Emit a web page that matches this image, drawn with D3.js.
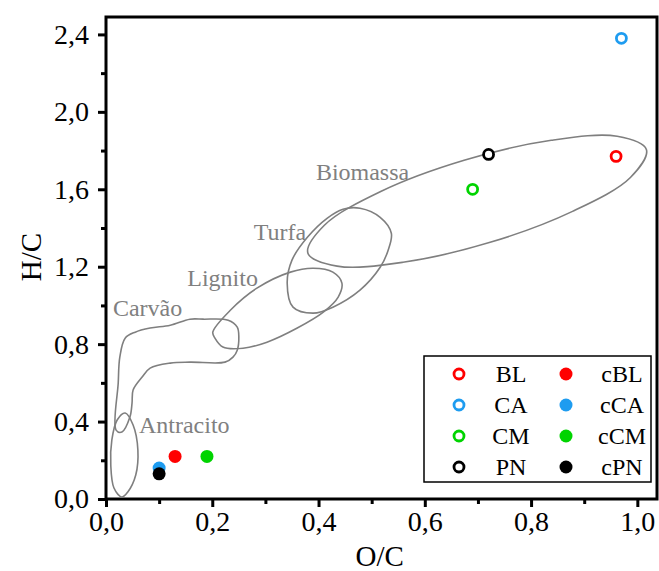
<!DOCTYPE html>
<html>
<head>
<meta charset="utf-8">
<script src="https://cdnjs.cloudflare.com/ajax/libs/d3/7.8.5/d3.min.js"></script>
<style>
body { margin: 0; background: #fff; }
svg text { font-family: 'Liberation Serif', 'Times New Roman', serif; }
</style>
</head>
<body>
<div id="chart"></div>
<script>
// data
var samples = ['BL', 'CA', 'CM', 'PN'];
var colors = ['#ff0000', '#1e9cf0', '#00d400', '#000000'];
var rawOC = [0.96, 0.97, 0.69, 0.72];
var rawHC = [1.77, 2.38, 1.60, 1.78];
var charOC = [0.13, 0.10, 0.19, 0.10];
var charHC = [0.22, 0.16, 0.22, 0.13];

var xTicks = [0, 0.2, 0.4, 0.6, 0.8, 1.0];
var xMinor = [0.1, 0.3, 0.5, 0.7, 0.9];
var yTicks = [0, 0.4, 0.8, 1.2, 1.6, 2.0, 2.4];
var yMinor = [0.2, 0.6, 1.0, 1.4, 1.8, 2.2];

// region outlines [O/C, H/C]
var biomassa = [[1.017,1.806],[0.987,1.661],[0.878,1.486],[0.723,1.326],[0.559,1.223],[0.435,1.203],
    [0.380,1.270],[0.411,1.414],[0.518,1.590],[0.674,1.750],[0.838,1.853],[0.962,1.874]];
var turfa = [[0.478,1.502],[0.516,1.455],[0.537,1.373],[0.531,1.285],[0.516,1.197],[0.478,1.079],
    [0.427,0.991],[0.390,0.960],[0.352,0.991],[0.341,1.115],[0.350,1.234],[0.379,1.352],[0.416,1.450],[0.446,1.497]];
var lignito = [[0.201,0.862],[0.234,0.975],[0.284,1.089],[0.347,1.172],[0.390,1.192],[0.427,1.172],
    [0.444,1.115],[0.437,1.043],[0.409,0.965],[0.360,0.883],[0.303,0.810],[0.258,0.779],[0.220,0.785],[0.205,0.831]];
var carvao = [[0.019,0.356],[0.023,0.599],[0.026,0.733],[0.036,0.831],[0.055,0.862],[0.083,0.883],
    [0.121,0.898],[0.158,0.929],[0.183,0.929],[0.230,0.924],[0.247,0.888],[0.250,0.836],[0.247,0.769],
    [0.239,0.733],[0.224,0.707],[0.158,0.707],[0.121,0.702],[0.083,0.676],[0.068,0.630],[0.051,0.563],
    [0.049,0.495],[0.045,0.423],[0.030,0.346]];
var antracito = [[0.036,0.444],[0.051,0.382],[0.060,0.253],[0.056,0.124],[0.041,0.036],[0.030,0.010],
    [0.015,0.057],[0.009,0.175],[0.011,0.305],[0.021,0.408]];

var regions = [
    { name: 'Biomassa', pts: biomassa, lx: 0.395, ly: 1.646 },
    { name: 'Turfa', pts: turfa, lx: 0.278, ly: 1.337 },
    { name: 'Lignito', pts: lignito, lx: 0.153, ly: 1.100 },
    { name: 'Carvão', pts: carvao, lx: 0.013, ly: 0.945 },
    { name: 'Antracito', pts: antracito, lx: 0.062, ly: 0.340 }
];

// chart
var margin = { top: 17, right: 2, bottom: 72, left: 106 };
var W = 659, H = 571;
var width = W - margin.left - margin.right;
var height = H - margin.top - margin.bottom;
var serif = "'Liberation Serif', 'Times New Roman', serif";

var svg = d3.select('#chart').append('svg')
    .attr('width', W)
    .attr('height', H)
    .attr('font-family', serif)
    .append('g')
    .attr('transform', 'translate(' + margin.left + ',' + margin.top + ')');

var x = d3.scaleLinear().domain([0, 1.037]).range([0, width]);
var y = d3.scaleLinear().domain([0, 2.49]).range([height, 0]);

var fmt = function (d) { return d3.format('.1f')(d).replace('.', ','); };

// axes
var gx = svg.append('g').attr('transform', 'translate(0,' + height + ')')
    .call(d3.axisBottom(x).tickValues(xTicks).tickFormat(fmt).tickSize(8).tickPadding(4));
var gxm = svg.append('g').attr('transform', 'translate(0,' + height + ')')
    .call(d3.axisBottom(x).tickValues(xMinor).tickFormat('').tickSize(5));
var gy = svg.append('g')
    .call(d3.axisLeft(y).tickValues(yTicks).tickFormat(fmt).tickSize(8).tickPadding(9));
var gym = svg.append('g')
    .call(d3.axisLeft(y).tickValues(yMinor).tickFormat('').tickSize(5));

[gx, gxm, gy, gym].forEach(function (g) {
    g.attr('font-family', serif).attr('font-size', 28);
    g.select('.domain').remove();
    g.selectAll('.tick line').attr('stroke', '#000').attr('stroke-width', 3);
    g.selectAll('.tick text')
        .style('font-family', serif)
        .style('font-size', '28px')
        .attr('fill', '#000');
});

// frame
svg.append('rect')
    .attr('x', 0).attr('y', 0)
    .attr('width', width).attr('height', height)
    .attr('fill', 'none')
    .attr('stroke', '#000')
    .attr('stroke-width', 3);

svg.append('text')
    .attr('x', x(0.515))
    .attr('y', height + 67)
    .attr('text-anchor', 'middle')
    .style('font-size', '29px')
    .text('O/C');

svg.append('text')
    .attr('transform', 'rotate(-90)')
    .attr('x', -y(1.25))
    .attr('y', -65)
    .attr('text-anchor', 'middle')
    .style('font-size', '29px')
    .text('H/C');

// regions
var line = d3.line()
    .x(function (d) { return x(d[0]); })
    .y(function (d) { return y(d[1]); })
    .curve(d3.curveCatmullRomClosed.alpha(0.5));

svg.selectAll('.region')
    .data(regions)
    .enter()
    .append('path')
    .attr('class', 'region')
    .attr('d', function (d) { return line(d.pts); })
    .attr('fill', 'none')
    .attr('stroke', '#7f7f7f')
    .attr('stroke-width', 1.6);

svg.selectAll('.rlabel')
    .data(regions)
    .enter()
    .append('text')
    .attr('class', 'rlabel')
    .attr('x', function (d) { return x(d.lx); })
    .attr('y', function (d) { return y(d.ly); })
    .attr('fill', '#808080')
    .style('font-size', '24px')
    .text(function (d) { return d.name; });

// points
var raw = samples.map(function (s, i) { return { name: s, c: colors[i], oc: rawOC[i], hc: rawHC[i] }; });
var chr = samples.map(function (s, i) { return { name: 'c' + s, c: colors[i], oc: charOC[i], hc: charHC[i] }; });

svg.selectAll('.raw')
    .data(raw)
    .enter()
    .append('circle')
    .attr('cx', function (d) { return x(d.oc); })
    .attr('cy', function (d) { return y(d.hc); })
    .attr('r', 5)
    .attr('fill', '#fff')
    .attr('stroke', function (d) { return d.c; })
    .attr('stroke-width', 2.8);

svg.selectAll('.char')
    .data(chr)
    .enter()
    .append('circle')
    .attr('cx', function (d) { return x(d.oc); })
    .attr('cy', function (d) { return y(d.hc); })
    .attr('r', 6.5)
    .attr('fill', function (d) { return d.c; });

// legend
var lg = svg.append('g').attr('transform', 'translate(' + (424 - margin.left) + ',' + (356 - margin.top) + ')');
lg.append('rect')
    .attr('width', 227).attr('height', 126)
    .attr('fill', '#fff')
    .attr('stroke', '#000')
    .attr('stroke-width', 1.5);

var rowY = function (i) { return 18 + i * 31; };
raw.forEach(function (d, i) {
    lg.append('circle')
        .attr('cx', 35).attr('cy', rowY(i))
        .attr('r', 5)
        .attr('fill', '#fff')
        .attr('stroke', d.c)
        .attr('stroke-width', 2.8);
    lg.append('text')
        .attr('x', 87).attr('y', rowY(i) + 8)
        .attr('text-anchor', 'middle')
        .style('font-size', '24px')
        .text(d.name);
});
chr.forEach(function (d, i) {
    lg.append('circle')
        .attr('cx', 142).attr('cy', rowY(i))
        .attr('r', 6.5)
        .attr('fill', d.c);
    lg.append('text')
        .attr('x', 198).attr('y', rowY(i) + 8)
        .attr('text-anchor', 'middle')
        .style('font-size', '24px')
        .text(d.name);
});
</script>
</body>
</html>
